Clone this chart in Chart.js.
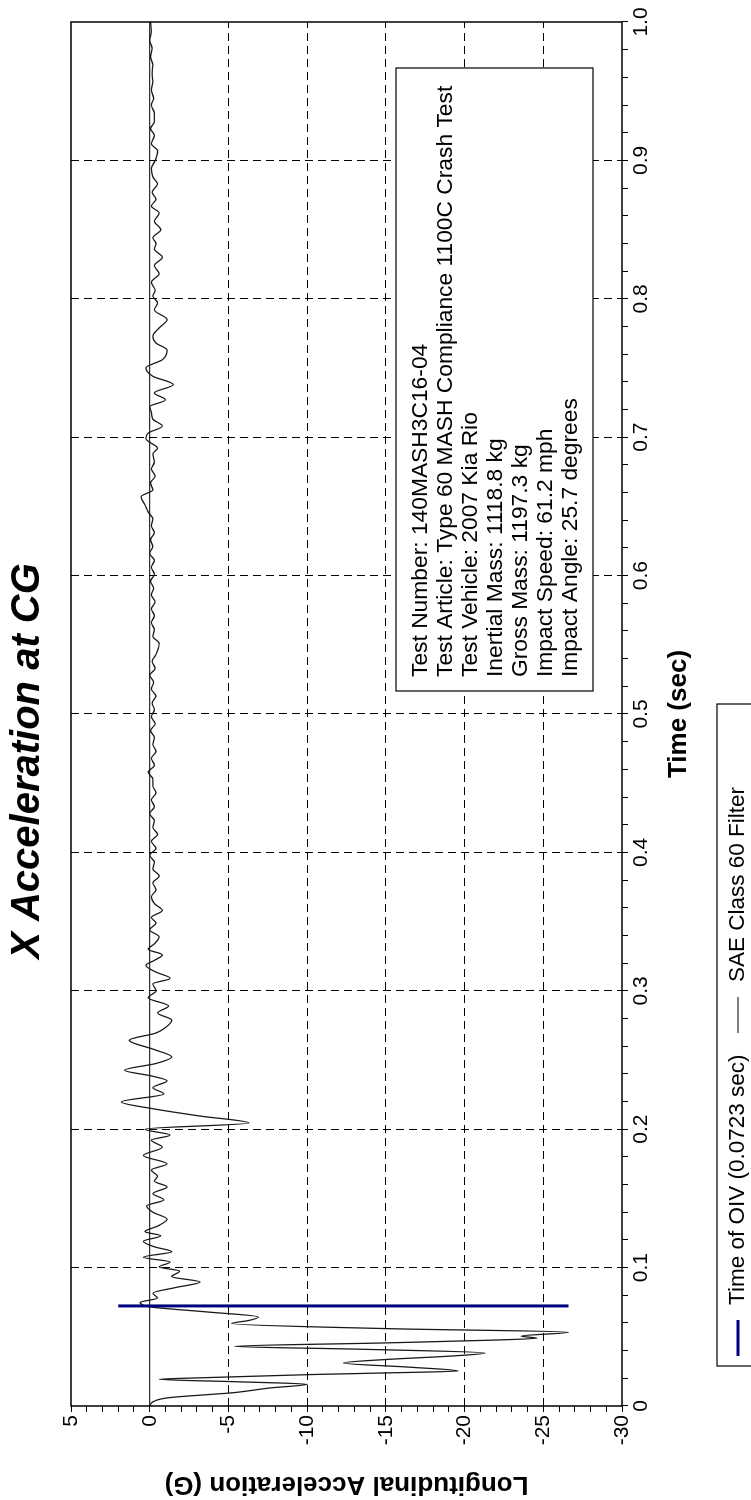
<!DOCTYPE html>
<html>
<head>
<meta charset="utf-8">
<script src="https://cdn.jsdelivr.net/npm/chart.js@4.4.1/dist/chart.umd.min.js"></script>
<style>
  html, body { margin: 0; padding: 0; background: #fff; overflow: hidden; }
  /* the chart is drawn landscape and turned a quarter turn to fit the page */
  #wrap { position: absolute; left: 0; top: 1500px; width: 1500px; height: 751px;
          transform-origin: 0 0; transform: rotate(-90deg); }
</style>
</head>
<body>
<div id="wrap"><canvas id="accelChart" width="1500" height="751"></canvas></div>
<script>
// Time axis (sec) and longitudinal acceleration (G)
const timeSec = [
  0.000, 0.003, 0.006, 0.008, 0.0095, 0.011, 0.013, 0.0157, 0.0175, 0.0193,
  0.0205, 0.0227, 0.0239, 0.0253, 0.028, 0.0311, 0.0336, 0.0362, 0.0383, 0.041,
  0.0431, 0.0456, 0.0475, 0.049, 0.0505, 0.0533, 0.0558, 0.0596, 0.0618, 0.0643,
  0.068, 0.0715, 0.0748, 0.078, 0.0815, 0.0855, 0.0896, 0.0935, 0.0975, 0.1005,
  0.104, 0.1075, 0.1115, 0.115, 0.119, 0.123, 0.126, 0.130, 0.135, 0.140,
  0.1445, 0.149, 0.1535, 0.1583, 0.1625, 0.166, 0.1705, 0.175, 0.181, 0.187,
  0.1921, 0.1957, 0.200, 0.2045, 0.2095, 0.215, 0.2197, 0.2255, 0.230, 0.235,
  0.2385, 0.2426, 0.2475, 0.2522, 0.2575, 0.2643, 0.2695, 0.2735, 0.2788, 0.284,
  0.289, 0.295, 0.300, 0.305, 0.309, 0.3135, 0.3184, 0.322, 0.326, 0.330,
  0.334, 0.339, 0.344, 0.349, 0.353, 0.358, 0.363, 0.368, 0.373, 0.378,
  0.383, 0.388, 0.393, 0.398, 0.403, 0.408, 0.413, 0.418, 0.423, 0.428,
  0.433, 0.438, 0.443, 0.448, 0.453, 0.458, 0.463, 0.468, 0.473, 0.478,
  0.483, 0.488, 0.493, 0.498, 0.503, 0.508, 0.513, 0.518, 0.523, 0.528,
  0.533, 0.538, 0.543, 0.551, 0.556, 0.561, 0.566, 0.571, 0.576, 0.581,
  0.586, 0.591, 0.596, 0.601, 0.606, 0.611, 0.616, 0.621, 0.626, 0.631,
  0.636, 0.641, 0.646, 0.651, 0.657, 0.662, 0.667, 0.672, 0.677, 0.682,
  0.688, 0.692, 0.699, 0.703, 0.708, 0.713, 0.718, 0.722, 0.727, 0.732,
  0.738, 0.744, 0.750, 0.756, 0.763, 0.768, 0.773, 0.779, 0.785, 0.792,
  0.797, 0.802, 0.806, 0.812, 0.818, 0.824, 0.830, 0.836, 0.840, 0.844,
  0.850, 0.856, 0.862, 0.867, 0.872, 0.877, 0.883, 0.888, 0.894, 0.900,
  0.907, 0.912, 0.918, 0.923, 0.928, 0.934, 0.940, 0.945, 0.951, 0.957,
  0.963, 0.969, 0.975, 0.981, 0.987, 0.993, 1.000
];
const accelG = [
  0.0, -0.2, -1.2, -3.4, -5.2, -6.3, -7.6, -10.0, -5.6, -0.6,
  -3.6, -10.2, -15.0, -19.6, -16.6, -12.3, -15.0, -19.3, -21.3, -13.5,
  -5.4, -15.0, -21.5, -24.6, -23.6, -26.6, -15.5, -5.2, -6.3, -6.9,
  -3.6, -0.1, 0.6, -0.5, -0.2, -1.6, -3.2, -1.4, -1.9, -0.6,
  -1.3, 0.4, -1.4, -0.3, 0.4, -0.7, 0.3, -0.5, -1.1, -0.2,
  0.2, -0.9, -0.2, -1.1, -0.3, -0.5, -0.1, -1.1, 0.4, -0.8,
  -0.1, -1.3, 0.3, -6.3, -3.2, -0.1, 1.8, -0.9, -0.2, -1.1,
  -0.1, 1.6, -0.4, -1.4, -0.3, 1.3, -0.4, -1.0, -1.4, -0.5,
  -1.2, 0.1, -0.4, -0.2, -1.3, -0.4, 0.25, -0.3, -0.8, 0.1,
  -0.3, -0.6, 0.0, -0.4, -0.1, -0.8, -0.3, -0.1, -0.4, -0.2,
  -0.6, -0.2, -0.3, 0.0, -0.4, -0.1, -0.5, -0.2, -0.3, 0.0,
  -0.3, -0.1, -0.4, -0.2, -0.2, 0.1, -0.3, -0.1, -0.4, -0.2,
  -0.3, -0.05, -0.35, -0.1, -0.3, -0.15, -0.4, -0.1, -0.25, 0.0,
  -0.35, -0.15, -0.4, -0.6, -0.2, -0.3, -0.1, -0.3, -0.1, -0.35,
  -0.1, -0.25, -0.05, -0.3, -0.1, -0.3, 0.0, -0.2, -0.05, -0.3,
  -0.1, -0.2, 0.1, 0.3, 0.55, -0.2, -0.05, -0.35, -0.1, -0.3,
  -0.2, -0.5, 0.25, 0.1, -0.8, -0.2, -0.1, 0.0, -1.0, -0.3,
  -1.5, -0.2, 0.25, -0.8, -1.1, -0.4, -0.2, -0.6, -1.1, -0.3,
  -0.5, -0.2, -0.35, -0.1, -0.6, -0.3, -0.8, -0.3, -0.4, -0.2,
  -0.7, -0.3, -0.6, -0.1, -0.4, -0.15, -0.5, -0.2, -0.1, -0.35,
  -0.5, -0.1, -0.3, -0.05, -0.3, -0.3, -0.1, -0.25, -0.1, -0.2,
  -0.15, -0.2, -0.05, -0.15, 0.0, -0.1, -0.05
];

// Time of OIV marker
const oivTime = 0.0723;
const oivRange = [2.0, -26.6];

// axes
const timeRange = [0, 1.0];
const accelRange = [-30, 5];

const chartTitle = 'X Acceleration at CG';
const xTitle = 'Time (sec)';
const yTitle = 'Longitudinal Acceleration (G)';
const legendLabels = ['Time of OIV (0.0723 sec)', 'SAE Class 60 Filter'];
const infoLines = [
  'Test Number: 140MASH3C16-04',
  'Test Article: Type 60 MASH Compliance 1100C Crash Test',
  'Test Vehicle: 2007 Kia Rio',
  'Inertial Mass: 1118.8 kg',
  'Gross Mass: 1197.3 kg',
  'Impact Speed: 61.2 mph',
  'Impact Angle: 25.7 degrees'
];

const FONT = "'Liberation Sans', Arial, sans-serif";
Chart.defaults.font.family = FONT;
Chart.defaults.color = '#000';

const tracePoints = timeSec.map((t, i) => ({ x: t, y: accelG[i] }));
const oivPoints = oivRange.map(g => ({ x: oivTime, y: g }));
const zeroPoints = timeRange.map(t => ({ x: t, y: 0 }));

// frame, info box and legend drawn on top of the grid
const decorations = {
  id: 'decorations',
  afterDatasetsDraw(chart) {
    const { ctx, chartArea: a } = chart;
    ctx.save();
    ctx.strokeStyle = '#000';
    ctx.lineWidth = 1.5;
    ctx.strokeRect(a.left, a.top, a.right - a.left, a.bottom - a.top);

    // test info box
    ctx.fillStyle = '#fff';
    ctx.fillRect(809, 396, 623, 197);
    ctx.lineWidth = 1.2;
    ctx.strokeRect(809, 396, 623, 197);
    ctx.fillStyle = '#000';
    ctx.font = '22.8px ' + FONT;
    ctx.textBaseline = 'middle';
    ctx.textAlign = 'left';
    infoLines.forEach((line, i) => ctx.fillText(line, 823, 421 + i * 25));

    // legend
    ctx.font = '22.5px ' + FONT;
    ctx.strokeRect(134, 717, 662, 60);
    const items = [
      { color: '#000080', width: 3, x: 144 },
      { color: '#000', width: 1.2, x: 467 }
    ];
    items.forEach((it, i) => {
      ctx.beginPath();
      ctx.strokeStyle = it.color;
      ctx.lineWidth = it.width;
      ctx.moveTo(it.x, 738);
      ctx.lineTo(it.x + 36, 738);
      ctx.stroke();
      ctx.fillText(legendLabels[i], it.x + 51, 738);
    });
    ctx.restore();
  }
};

const isMajorTime = v => Math.round(v * 100) % 10 === 0;
const isMajorAccel = v => Math.round(v) % 5 === 0;

new Chart(document.getElementById('accelChart'), {
  type: 'line',
  data: {
    datasets: [
      {
        label: legendLabels[0],
        data: oivPoints,
        borderColor: '#000080',
        borderWidth: 3,
        pointRadius: 0
      },
      {
        label: legendLabels[1],
        data: tracePoints,
        borderColor: '#1a1a1a',
        borderWidth: 1.3,
        pointRadius: 0,
        cubicInterpolationMode: 'monotone'
      },
      {
        label: 'zero',
        data: zeroPoints,
        borderColor: '#000',
        borderWidth: 1,
        pointRadius: 0
      }
    ]
  },
  options: {
    responsive: false,
    devicePixelRatio: 1,
    animation: false,
    layout: { padding: { left: 0, right: 22, top: 0, bottom: 0 } },
    plugins: {
      legend: { display: false },
      tooltip: { enabled: false },
      title: {
        display: true,
        text: chartTitle,
        color: '#000',
        font: { size: 40, weight: 'bold', style: 'italic' },
        padding: { top: 4, bottom: 19 }
      }
    },
    scales: {
      x: {
        type: 'linear',
        min: timeRange[0],
        max: timeRange[1],
        afterFit(scale) { scale.height = 129; },
        border: { display: false, dash: [8, 5] },
        grid: {
          color: c => (isMajorTime(c.tick.value) && c.tick.value > 0 && c.tick.value < 1) ? '#000' : 'rgba(0,0,0,0)',
          lineWidth: 1,
          tickColor: '#000',
          tickLength: 6,
          tickWidth: 1
        },
        ticks: {
          stepSize: 0.02,
          autoSkip: false,
          maxRotation: 0,
          minRotation: 0,
          padding: 1,
          font: { size: 21 },
          color: '#000',
          callback: v => isMajorTime(v) ? (v === 0 ? '0' : v.toFixed(1)) : ''
        },
        title: {
          display: true,
          text: xTitle,
          color: '#000',
          font: { size: 26, weight: 'bold' },
          padding: { top: 0, bottom: 57 }
        }
      },
      y: {
        type: 'linear',
        min: accelRange[0],
        max: accelRange[1],
        afterFit(scale) { scale.width = 94; },
        border: { display: false, dash: [8, 5] },
        grid: {
          color: c => (isMajorAccel(c.tick.value) && c.tick.value < 0 && c.tick.value > -30) ? '#000' : 'rgba(0,0,0,0)',
          lineWidth: 1,
          tickColor: '#000',
          tickLength: 6,
          tickWidth: 1
        },
        ticks: {
          stepSize: 1,
          autoSkip: false,
          padding: 3,
          font: { size: 21 },
          color: '#000',
          callback: v => isMajorAccel(v) ? String(v) : ''
        },
        title: {
          display: true,
          text: yTitle,
          color: '#000',
          font: { size: 26, weight: 'bold' },
          padding: { top: 0, bottom: 0 }
        }
      }
    }
  },
  plugins: [decorations]
});
</script>
</body>
</html>
